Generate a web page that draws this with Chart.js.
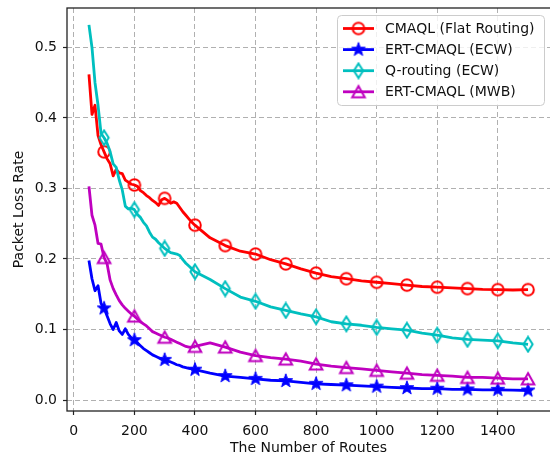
<!DOCTYPE html>
<html>
<head>
<meta charset="utf-8">
<script src="https://cdn.jsdelivr.net/npm/chart.js@4.4.1/dist/chart.umd.min.js"></script>
<style>
  html, body { margin: 0; padding: 0; background: #fff; }
  #wrap { width: 550px; height: 457px; }
</style>
</head>
<body>
<div id="wrap"><canvas id="loss_chart" width="550" height="457"></canvas></div>
<script>
// DATA
const routes = [50, 60, 70, 80, 90, 100, 110, 120, 130, 140, 150, 160, 170, 180, 190, 200,
	210, 220, 230, 240, 250, 260, 270, 280, 290, 300, 310, 320, 330, 340, 350, 360, 370, 380, 390, 400,
	450, 500, 550, 600, 650, 700, 750, 800, 850, 900, 950, 1000, 1050, 1100, 1150, 1200, 1250, 1300,
	1350, 1400, 1450, 1500];

const cmaql_flat = [0.462, 0.405, 0.418, 0.375, 0.362, 0.352, 0.342, 0.335, 0.318, 0.327, 0.322, 0.321, 0.312, 0.309, 0.306, 0.305,
	0.303, 0.297, 0.294, 0.290, 0.287, 0.283, 0.280, 0.276, 0.284, 0.286, 0.283, 0.279, 0.281, 0.279, 0.273, 0.267, 0.262, 0.257, 0.252, 0.248,
	0.230, 0.219, 0.211, 0.207, 0.199, 0.193, 0.186, 0.180, 0.175, 0.172, 0.169, 0.167, 0.165, 0.163, 0.161, 0.160, 0.159, 0.158,
	0.157, 0.1565, 0.156, 0.1565];

const ert_ecw = [0.198, 0.172, 0.155, 0.162, 0.137, 0.130, 0.119, 0.108, 0.100, 0.110, 0.098, 0.093, 0.101, 0.093, 0.088, 0.085,
	0.081, 0.077, 0.073, 0.070, 0.067, 0.064, 0.062, 0.060, 0.058, 0.057, 0.055, 0.054, 0.052, 0.050, 0.049, 0.047, 0.046, 0.045, 0.044, 0.043,
	0.038, 0.034, 0.032, 0.030, 0.028, 0.027, 0.025, 0.023, 0.022, 0.021, 0.020, 0.019, 0.018, 0.017, 0.016, 0.016, 0.015, 0.015,
	0.0145, 0.0145, 0.014, 0.0135];

const qrouting_ecw = [0.532, 0.500, 0.450, 0.418, 0.378, 0.372, 0.364, 0.352, 0.335, 0.330, 0.312, 0.298, 0.275, 0.271, 0.272, 0.270,
	0.263, 0.259, 0.252, 0.247, 0.238, 0.231, 0.228, 0.223, 0.219, 0.215, 0.212, 0.209, 0.208, 0.207, 0.205, 0.199, 0.194, 0.190, 0.186, 0.182,
	0.171, 0.158, 0.146, 0.140, 0.132, 0.127, 0.122, 0.118, 0.111, 0.108, 0.106, 0.103, 0.101, 0.099, 0.095, 0.092, 0.088, 0.086,
	0.085, 0.084, 0.081, 0.079];

const ert_mwb = [0.303, 0.262, 0.248, 0.222, 0.221, 0.202, 0.193, 0.170, 0.158, 0.149, 0.141, 0.135, 0.130, 0.126, 0.122, 0.119,
	0.115, 0.111, 0.108, 0.105, 0.101, 0.097, 0.095, 0.093, 0.091, 0.089, 0.088, 0.086, 0.084, 0.082, 0.080, 0.078, 0.076, 0.075, 0.075, 0.076,
	0.081, 0.075, 0.068, 0.063, 0.060, 0.058, 0.055, 0.051, 0.048, 0.046, 0.044, 0.042, 0.040, 0.038, 0.036, 0.035, 0.034, 0.032,
	0.032, 0.031, 0.030, 0.030];

const series_names = ['CMAQL (Flat Routing)', 'ERT-CMAQL (ECW)', 'Q-routing (ECW)', 'ERT-CMAQL (MWB)'];
const x_ticks = [0, 200, 400, 600, 800, 1000, 1200, 1400];
const y_ticks = [0.0, 0.1, 0.2, 0.3, 0.4, 0.5];

// MARKERS (matplotlib style, drawn on small canvases)
function makeMarker(shape, color){
	const c = document.createElement('canvas');
	c.width = 18; c.height = 18;
	const g = c.getContext('2d');
	g.translate(9, 9);
	g.strokeStyle = color;
	g.fillStyle = color;
	g.lineWidth = 2;
	g.lineJoin = 'miter';
	g.beginPath();
	if(shape == 'circle'){
		g.arc(0, 0, 5.8, 0, Math.PI * 2);
		g.stroke();
	} else if(shape == 'star'){
		for(let i = 0; i < 10; i++){
			const r = i % 2 ? 2.9 : 7.2;
			const a = -Math.PI / 2 + i * Math.PI / 5;
			g.lineTo(r * Math.cos(a), r * Math.sin(a));
		}
		g.closePath();
		g.fill();
		g.lineWidth = 1;
		g.stroke();
	} else if(shape == 'diamond'){
		g.moveTo(0, -7.3); g.lineTo(4.6, 0); g.lineTo(0, 7.3); g.lineTo(-4.6, 0);
		g.closePath();
		g.stroke();
	} else if(shape == 'triangle'){
		g.moveTo(0, -5.8); g.lineTo(6.3, 5.6); g.lineTo(-6.3, 5.6);
		g.closePath();
		g.stroke();
	}
	return c;
}

const colors = ['#ff0000', '#0000ff', '#00bfbf', '#bf00bf'];
const shapes = ['circle', 'star', 'diamond', 'triangle'];
const markers = shapes.map((s, i) => makeMarker(s, colors[i]));
const values = [cmaql_flat, ert_ecw, qrouting_ecw, ert_mwb];

function markAt(ctx){
	return routes[ctx.dataIndex] % 100 == 0 ? 6 : 0;
}

const datasets = values.map((vals, i) => ({
	label: series_names[i],
	data: routes.map((r, j) => ({x: r, y: vals[j]})),
	borderColor: colors[i],
	backgroundColor: colors[i],
	borderWidth: 2.8,
	borderJoinStyle: 'round',
	tension: 0,
	fill: false,
	pointStyle: markers[i],
	pointRadius: markAt,
	pointHoverRadius: markAt,
	order: 4 - i
}));

// LEGEND + FRAME
const legend_box = {
	id: 'legend_box',
	afterDraw(chart){
		const c = chart.ctx;
		c.save();
		c.beginPath();
		c.roundRect(337.5, 15.5, 207, 90, 4);
		c.fillStyle = 'rgba(255,255,255,0.8)';
		c.fill();
		c.strokeStyle = '#cccccc';
		c.lineWidth = 1;
		c.stroke();
		c.font = '14px "DejaVu Sans"';
		c.textBaseline = 'middle';
		series_names.forEach((name, i) => {
			const y = 28.5 + i * 21.1;
			c.beginPath();
			c.moveTo(343, y);
			c.lineTo(374, y);
			c.strokeStyle = colors[i];
			c.lineWidth = 2.8;
			c.stroke();
			c.drawImage(markers[i], 358.5 - 9, y - 9);
			c.fillStyle = '#111';
			c.fillText(name, 385, y + 0.5);
		});
		c.restore();
	},
	afterDatasetsDraw(chart){
		const a = chart.chartArea;
		const c = chart.ctx;
		c.save();
		c.strokeStyle = '#222';
		c.lineWidth = 1.3;
		c.strokeRect(a.left, a.top, a.right - a.left + 5, a.bottom - a.top);
		c.restore();
	}
};

const tick_font = {family: '"DejaVu Sans"', size: 14};

function noPad(s){
	s.paddingTop = 0; s.paddingBottom = 0; s.paddingLeft = 0; s.paddingRight = 0;
}

new Chart(document.getElementById('loss_chart').getContext('2d'), {
	type: 'line',
	data: {datasets: datasets},
	options: {
		responsive: false,
		animation: false,
		events: [],
		layout: {autoPadding: false, padding: {top: 8, right: 0, left: 0, bottom: 0}},
		plugins: {legend: {display: false}, tooltip: {enabled: false}},
		scales: {
			x: {
				type: 'linear',
				min: -22.5,
				max: 1572.5,
				afterBuildTicks: s => { s.ticks = x_ticks.map(v => ({value: v})); },
				afterFit: s => { s.height = 46; noPad(s); },
				border: {display: false, dash: [5, 3]},
				grid: {color: '#b0b0b0', lineWidth: 1, tickLength: 4,
					tickColor: '#222', tickWidth: 1.2, tickBorderDash: []},
				ticks: {color: '#111', font: tick_font, padding: 8, maxRotation: 0,
					callback: v => String(v)},
				title: {display: true, text: 'The Number of Routes', color: '#111', font: tick_font,
					padding: {top: 0, bottom: 0}}
			},
			y: {
				min: -0.0156,
				max: 0.556,
				afterBuildTicks: s => { s.ticks = y_ticks.map(v => ({value: v})); },
				afterFit: s => { s.width = 67; noPad(s); },
				border: {display: false, dash: [5, 3]},
				grid: {color: '#b0b0b0', lineWidth: 1, tickLength: 4,
					tickColor: '#222', tickWidth: 1.2, tickBorderDash: []},
				ticks: {color: '#111', font: tick_font, padding: 6,
					callback: v => v.toFixed(1)},
				title: {display: true, text: 'Packet Loss Rate', color: '#111', font: tick_font,
					padding: {top: 11, bottom: 0}}
			}
		}
	},
	plugins: [legend_box]
});
</script>
</body>
</html>
